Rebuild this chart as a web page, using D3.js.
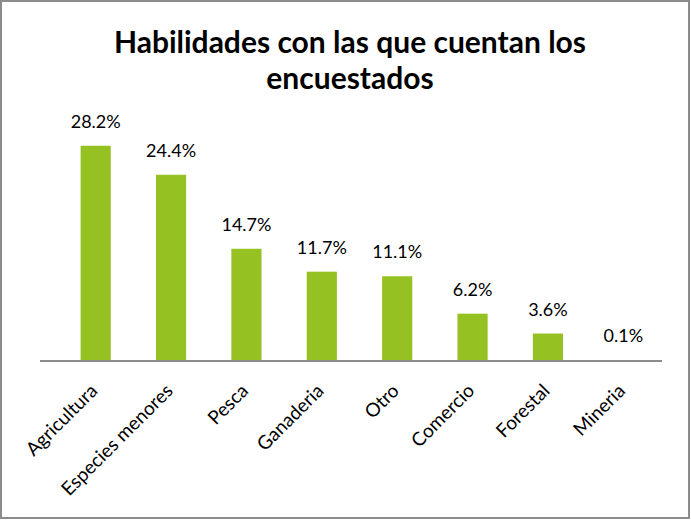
<!DOCTYPE html>
<html>
<head>
<meta charset="utf-8">
<script src="https://cdn.jsdelivr.net/npm/d3@7"></script>
<style>
  html, body { margin: 0; padding: 0; background: #fff; }
  svg { display: block; }
</style>
</head>
<body>
<svg id="chart" width="691" height="520"></svg>
<script>
const categories = ["Agricultura", "Especies menores", "Pesca", "Ganaderia", "Otro", "Comercio", "Forestal", "Mineria"];
const values = [28.2, 24.4, 14.7, 11.7, 11.1, 6.2, 3.6, 0.1];
const titleLines = ["Habilidades con las que cuentan los", "encuestados"];

const W = 691, H = 520;
const svg = d3.select("#chart");
const font = "Lato, 'Open Sans', sans-serif";

svg.append("rect")
  .attr("x", 1).attr("y", 1).attr("width", W - 3).attr("height", H - 3)
  .attr("fill", "#fff").attr("stroke", "#8c8c8c").attr("stroke-width", 2);

svg.append("text")
  .attr("x", 350).attr("y", 53)
  .attr("text-anchor", "middle")
  .attr("font-family", font).attr("font-weight", "bold").attr("font-size", 30)
  .attr("fill", "#000")
  .selectAll("tspan").data(titleLines).join("tspan")
  .attr("x", 350).attr("dy", (d, i) => i === 0 ? 0 : 36)
  .text(d => d);

const x = d3.scaleBand().domain(categories).range([58, 661]).paddingInner(0.6).paddingOuter(0.3);
const baseY = 361;
const y = d3.scaleLinear().domain([0, 30]).range([baseY, baseY - 229]);

const data = categories.map((c, i) => ({ c, v: values[i] }));

svg.selectAll("rect.bar").data(data).join("rect")
  .attr("class", "bar")
  .attr("x", d => x(d.c)).attr("width", x.bandwidth())
  .attr("y", d => y(d.v)).attr("height", d => baseY - y(d.v))
  .attr("fill", "#95c123");

svg.selectAll("text.val").data(data).join("text")
  .attr("class", "val")
  .attr("x", d => x(d.c) + x.bandwidth() / 2)
  .attr("y", d => y(d.v) - 18)
  .attr("text-anchor", "middle")
  .attr("font-family", font).attr("font-size", 18).attr("fill", "#000")
  .text(d => d.v.toFixed(1) + "%");

const axis = d3.axisBottom(x).tickSize(0).tickPadding(0);
const g = svg.append("g").attr("transform", `translate(0,${baseY})`).call(axis);
g.select(".domain").attr("stroke", "#8c8c8c").attr("stroke-width", 2)
  .attr("d", `M${40},0H${662}`);
g.selectAll(".tick text")
  .attr("font-family", font).attr("font-size", 19).attr("fill", "#000")
  .attr("text-anchor", "end")
  .attr("dy", null).attr("y", 0)
  .attr("transform", "translate(3,31) rotate(-45)");
</script>
</body>
</html>
